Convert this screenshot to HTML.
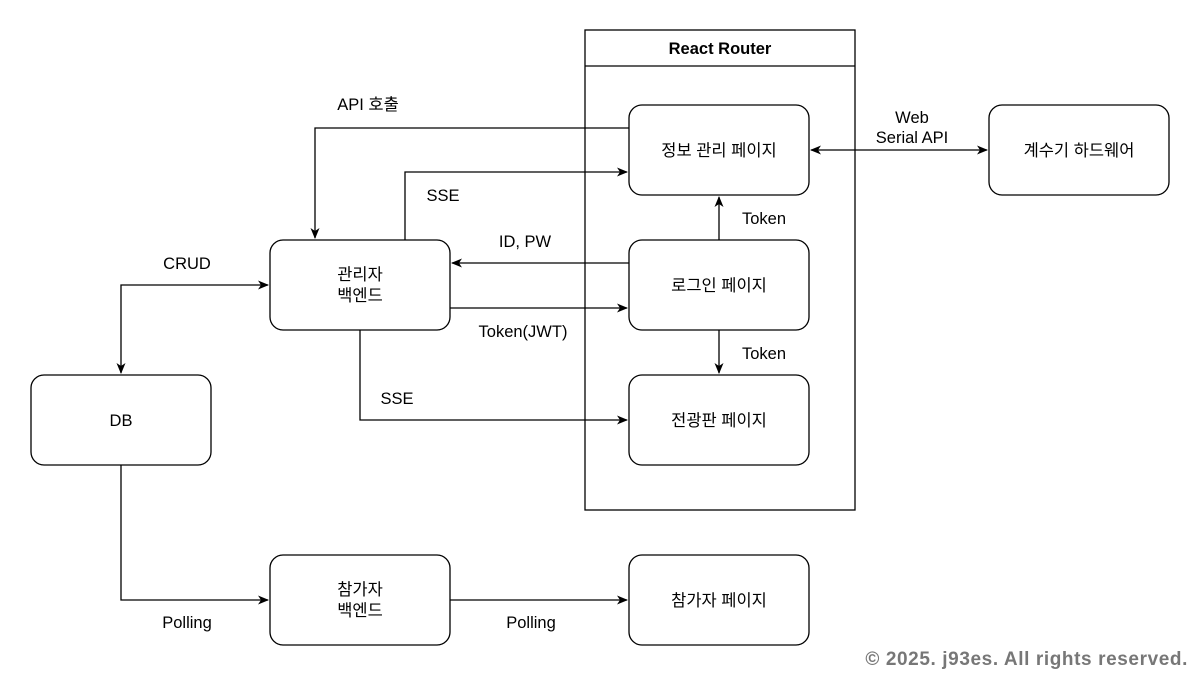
<!DOCTYPE html>
<html><head><meta charset="utf-8"><style>
html,body{margin:0;padding:0;background:#fff;}
svg{display:block;}
text{font-family:"Liberation Sans","Noto Sans CJK KR",sans-serif;font-size:16.5px;fill:#000;}
</style></head><body>
<svg width="1200" height="675" viewBox="0 0 1200 675" xmlns="http://www.w3.org/2000/svg">
<defs>
<marker id="a" markerWidth="12" markerHeight="12" refX="10" refY="6" orient="auto-start-reverse" markerUnits="userSpaceOnUse">
<path d="M0,1.5 L11,6 L0,10.5 L3,6 Z" fill="#000"/></marker>
</defs>
<g fill="#fff" stroke="#000" stroke-width="1.3">
<rect x="585" y="30" width="270" height="480"/>
<line x1="585" y1="66" x2="855" y2="66"/>
<rect x="629" y="105" width="180" height="90" rx="13"/>
<rect x="629" y="240" width="180" height="90" rx="13"/>
<rect x="629" y="375" width="180" height="90" rx="13"/>
<rect x="989" y="105" width="180" height="90" rx="13"/>
<rect x="270" y="240" width="180" height="90" rx="13"/>
<rect x="31" y="375" width="180" height="90" rx="13"/>
<rect x="270" y="555" width="180" height="90" rx="13"/>
<rect x="629" y="555" width="180" height="90" rx="13"/>
</g>
<g fill="none" stroke="#000" stroke-width="1.3">
<path d="M629,128 H315 V238" marker-end="url(#a)"/>
<path d="M405,240 V172 H627" marker-end="url(#a)"/>
<path d="M629,263 H452" marker-end="url(#a)"/>
<path d="M450,308 H627" marker-end="url(#a)"/>
<path d="M719,240 V197" marker-end="url(#a)"/>
<path d="M719,330 V373" marker-end="url(#a)"/>
<path d="M360,330 V420 H627" marker-end="url(#a)"/>
<path d="M268,285 H121 V373" marker-start="url(#a)" marker-end="url(#a)"/>
<path d="M811,150 H987" marker-start="url(#a)" marker-end="url(#a)"/>
<path d="M121,465 V600 H268" marker-end="url(#a)"/>
<path d="M450,600 H627" marker-end="url(#a)"/>
</g>
<g text-anchor="middle">
<text x="720" y="54" font-weight="bold">React Router</text>
<text x="719" y="156">정보 관리 페이지</text>
<text x="719" y="291">로그인 페이지</text>
<text x="719" y="426">전광판 페이지</text>
<text x="1079" y="156">계수기 하드웨어</text>
<text x="360" y="280">관리자</text>
<text x="360" y="301">백엔드</text>
<text x="121" y="426">DB</text>
<text x="360" y="595">참가자</text>
<text x="360" y="616">백엔드</text>
<text x="719" y="606">참가자 페이지</text>
<text x="368" y="110">API 호출</text>
<text x="443" y="201">SSE</text>
<text x="525" y="247">ID, PW</text>
<text x="523" y="337">Token(JWT)</text>
<text x="764" y="224">Token</text>
<text x="764" y="359">Token</text>
<text x="397" y="404">SSE</text>
<text x="187" y="269">CRUD</text>
<text x="912" y="123">Web</text>
<text x="912" y="143">Serial API</text>
<text x="187" y="628">Polling</text>
<text x="531" y="628">Polling</text>
</g>
<text x="1188" y="665" text-anchor="end" font-weight="bold" style="font-size:19px;letter-spacing:0.6px;fill:#777">© 2025. j93es. All rights reserved.</text>
</svg>
</body></html>
